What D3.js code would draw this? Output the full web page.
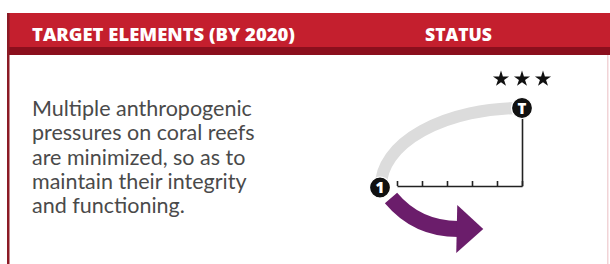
<!DOCTYPE html>
<html>
<head>
<meta charset="utf-8">
<script src="https://cdn.jsdelivr.net/npm/d3@7"></script>
<style>
  body { margin: 0; background: #fff; }
  svg { display: block; }
</style>
</head>
<body>
<svg id="chart" width="610" height="264"></svg>
<script>
// header + target text
var headers = ['TARGET ELEMENTS (BY 2020)', 'STATUS'];
var targetLines = ['Multiple anthropogenic', 'pressures on coral reefs', 'are minimized, so as to',
  'maintain their integrity', 'and functioning.'];

// status diagram
var steps = [0, 1, 2, 3, 4, 5];
var startLabel = '1';
var targetLabel = 'T';
var targetLevel = 5;
var stars = [1, 2, 3];

var svg = d3.select('#chart');

// frame
svg.append('rect').attr('x', 7).attr('y', 13).attr('width', 603).attr('height', 35).style('fill', '#c41f2e');
svg.append('rect').attr('x', 7).attr('y', 47).attr('width', 603).attr('height', 8).style('fill', '#8b0f1d');
svg.append('rect').attr('x', 7).attr('y', 13).attr('width', 2.5).attr('height', 251).style('fill', '#8b1a25');
svg.append('rect').attr('x', 607).attr('y', 55).attr('width', 1.5).attr('height', 209).style('fill', '#f1d4d7');

var headW = [263, 67];
svg.selectAll('text.head').data(headers).enter().append('text')
  .attr('class', 'head')
  .attr('x', (d, i) => i == 0 ? 32 : 425)
  .attr('y', 41)
  .attr('textLength', (d, i) => headW[i])
  .attr('lengthAdjust', 'spacingAndGlyphs')
  .style('font-family', '"Open Sans", sans-serif').style('font-weight', 800)
  .style('font-size', '17px').style('fill', '#fff')
  .text(d => d);

svg.selectAll('text.body').data(targetLines).enter().append('text')
  .attr('class', 'body')
  .attr('x', 32)
  .attr('y', (d, i) => 116 + i * 24.3)
  .style('font-family', 'Lato, sans-serif')
  .style('font-size', '21.5px').style('fill', '#4a4a4a')
  .text(d => d);

// scales
var x = d3.scaleLinear().domain([0, 5]).range([397, 522]);
var y = d3.scaleLinear().domain([0, 5]).range([186, 108]);

// expected path (grey quarter ellipse)
var startX = x(0) - 16;
var rx = x(5) - startX, ry = y(0) - y(targetLevel);
svg.append('path')
  .attr('d', 'M' + startX + ',' + y(0) + ' A' + rx + ',' + ry + ' 0 0 1 ' + x(5) + ',' + y(targetLevel))
  .style('fill', 'none').style('stroke', '#dcdcdc').style('stroke-width', 12);

// axes
svg.append('g').attr('transform', 'translate(0,' + y(0) + ')')
  .call(d3.axisTop(x).tickValues(steps).tickSize(5).tickSizeOuter(0).tickFormat(''))
  .call(g => g.selectAll('line,path').style('stroke', '#222').style('stroke-width', 1.6));
svg.append('g').attr('transform', 'translate(' + x(5) + ',0)')
  .call(d3.axisRight(y).tickValues([]).tickSizeOuter(0))
  .call(g => g.select('path').style('stroke', '#222').style('stroke-width', 1.6));

// trend arrow
var ax0 = startX + 10, ay0 = y(0) + 12;
var ax1 = x(2.45), ay1 = y(0) + 43;
svg.append('path')
  .attr('d', 'M' + ax0 + ',' + ay0 + ' Q' + (ax0 + 26) + ',' + ay1 + ' ' + ax1 + ',' + ay1)
  .style('fill', 'none').style('stroke', '#6b1d6b').style('stroke-width', 16);
svg.append('path')
  .attr('d', 'M' + (ax1 - 1) + ',' + (ay1 - 24) + ' L' + (ax1 + 25) + ',' + ay1 + ' L' + (ax1 - 2) + ',' + (ay1 + 24) + 'Z')
  .style('fill', '#6b1d6b');

// markers
var markers = [{ label: startLabel, cx: startX - 1, cy: y(0) + 1.5 }, { label: targetLabel, cx: x(5), cy: y(targetLevel) }];
var m = svg.selectAll('g.marker').data(markers).enter().append('g')
  .attr('class', 'marker').attr('transform', d => 'translate(' + d.cx + ',' + d.cy + ')');
m.append('circle').attr('r', 10.5).style('fill', '#111').style('stroke', '#fff').style('stroke-width', 1.2);
m.append('text').attr('text-anchor', 'middle').attr('dy', '0.37em')
  .style('font-family', '"Open Sans", sans-serif').style('font-weight', 800).style('font-size', '15px')
  .style('fill', '#fff').text(d => d.label);

// stars
svg.selectAll('path.star').data(stars).enter().append('path')
  .attr('class', 'star')
  .attr('transform', (d, i) => 'translate(' + (x(5) + (i - 1) * 21) + ',' + (y(targetLevel) - 29) + ')')
  .attr('d', d3.symbol().type(d3.symbolStar).size(80))
  .style('fill', '#111');
</script>
</body>
</html>
